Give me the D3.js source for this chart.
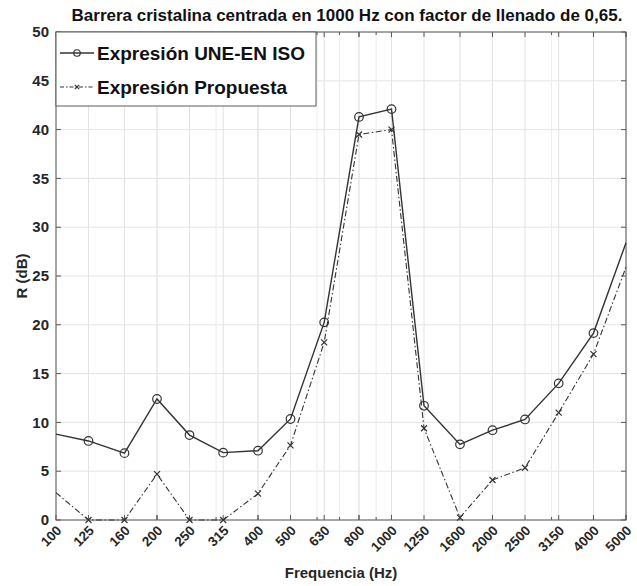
<!DOCTYPE html>
<html>
<head>
<meta charset="utf-8">
<script src="https://cdn.jsdelivr.net/npm/d3@7"></script>
<style>
  html, body { margin: 0; padding: 0; background: #fff; }
  svg { display: block; font-family: "Liberation Sans", Arial, sans-serif; }
</style>
</head>
<body>
<svg id="chart" width="637" height="586"></svg>
<script>
// Third-octave band centre frequencies (Hz)
const frequencies = [100, 125, 160, 200, 250, 315, 400, 500, 630, 800, 1000, 1250, 1600, 2000, 2500, 3150, 4000, 5000];
// Sound reduction index R (dB), standard expression
const rStandard = [8.8, 8.1, 6.85, 12.4, 8.7, 6.9, 7.1, 10.35, 20.25, 41.3, 42.1, 11.7, 7.75, 9.2, 10.3, 14.0, 19.15, 28.4];
// Sound reduction index R (dB), proposed expression
const rProposed = [2.8, 0, 0, 4.7, 0, 0, 2.7, 7.65, 18.2, 39.5, 40.0, 9.4, 0.25, 4.1, 5.35, 11.0, 17.0, 25.9];
const yTicks = [0, 5, 10, 15, 20, 25, 30, 35, 40, 45, 50];
const minorFreqs = [200, 300, 400, 500, 600, 700, 800, 900, 1000, 2000, 3000, 4000, 5000];
const seriesNames = ["Expresión UNE-EN ISO", "Expresión Propuesta"];

const svg = d3.select("#chart");
const plotL = 56, plotR = 626, plotT = 32, plotB = 520;
const axisColor = "#5a5a5a", textColor = "#262626", lineColor = "#333";

const x = d3.scaleLog().domain([100, 5000]).range([plotL, plotR]);
const y = d3.scaleLinear().domain([0, 50]).range([plotB, plotT]);
const [xMin, xMax] = x.domain();

// grid
const grid = svg.append("g");
grid.selectAll(".gy").data(yTicks).join("line")
  .attr("x1", plotL).attr("x2", plotR)
  .attr("y1", d => y(d)).attr("y2", d => y(d))
  .attr("stroke", "#e4e4e4").attr("stroke-width", 1);
grid.selectAll(".gm").data(minorFreqs).join("line")
  .attr("x1", d => x(d)).attr("x2", d => x(d))
  .attr("y1", plotT).attr("y2", plotB)
  .attr("stroke", "#ececec").attr("stroke-width", 1);
grid.selectAll(".gx").data(frequencies).join("line")
  .attr("x1", d => x(d)).attr("x2", d => x(d))
  .attr("y1", plotT).attr("y2", plotB)
  .attr("stroke", "#e2e2e2").attr("stroke-width", 1);

// axes box with inward ticks on all sides
const box = svg.append("g");
box.append("rect").attr("x", plotL).attr("y", plotT)
  .attr("width", plotR - plotL).attr("height", plotB - plotT)
  .attr("fill", "none").attr("stroke", axisColor).attr("stroke-width", 1);
const tickLen = 5;
frequencies.concat(minorFreqs).forEach(f => {
  const len = frequencies.includes(f) ? tickLen : 3;
  box.append("line").attr("x1", x(f)).attr("x2", x(f)).attr("y1", plotB).attr("y2", plotB - len)
    .attr("stroke", axisColor);
  box.append("line").attr("x1", x(f)).attr("x2", x(f)).attr("y1", plotT).attr("y2", plotT + len)
    .attr("stroke", axisColor);
});
yTicks.forEach(v => {
  box.append("line").attr("x1", plotL).attr("x2", plotL + tickLen).attr("y1", y(v)).attr("y2", y(v))
    .attr("stroke", axisColor);
  box.append("line").attr("x1", plotR).attr("x2", plotR - tickLen).attr("y1", y(v)).attr("y2", y(v))
    .attr("stroke", axisColor);
});

// tick labels
svg.append("g").selectAll("text").data(yTicks).join("text")
  .attr("x", plotL - 7).attr("y", d => y(d)).attr("dy", "0.35em")
  .attr("text-anchor", "end").attr("font-size", 15).attr("font-weight", "bold")
  .attr("fill", textColor).text(d => d);
svg.append("g").selectAll("text").data(frequencies).join("text")
  .attr("transform", d => `translate(${x(d) + 3},${plotB + 8}) rotate(-45)`)
  .attr("text-anchor", "end").attr("dy", "0.35em")
  .attr("font-size", 13.5).attr("font-weight", "bold")
  .attr("fill", textColor).text(d => d);

// axis titles and chart title
svg.append("text").attr("x", (plotL + plotR) / 2).attr("y", 578)
  .attr("text-anchor", "middle").attr("font-size", 15).attr("font-weight", "bold")
  .attr("fill", textColor).text("Frequencia (Hz)");
svg.append("text").attr("transform", `translate(22,${(plotT + plotB) / 2}) rotate(-90)`)
  .attr("text-anchor", "middle").attr("dy", "0.35em").attr("font-size", 15).attr("font-weight", "bold")
  .attr("fill", textColor).text("R (dB)");
svg.append("text").attr("x", (plotL + plotR) / 2 + 6).attr("y", 21)
  .attr("text-anchor", "middle").attr("font-size", 17).attr("font-weight", "bold")
  .attr("fill", "#111").text("Barrera cristalina centrada en 1000 Hz con factor de llenado de 0,65.");

// series
const line = d3.line().x(d => x(d[0])).y(d => y(d[1]));
const s1 = frequencies.map((f, i) => [f, rStandard[i]]);
const s2 = frequencies.map((f, i) => [f, rProposed[i]]);
const dashDot = "6,2.5,1.5,2.5";
// markers sitting on the x-limits are clipped away by the axes
const inside = d => d[0] > xMin && d[0] < xMax;

svg.append("path").datum(s2).attr("d", line).attr("fill", "none")
  .attr("stroke", lineColor).attr("stroke-width", 1.1).attr("stroke-dasharray", dashDot);
svg.append("path").datum(s1).attr("d", line).attr("fill", "none")
  .attr("stroke", lineColor).attr("stroke-width", 1.4);

function xMarker(g, cx, cy, r) {
  g.append("path").attr("d", `M${cx - r},${cy - r}L${cx + r},${cy + r}M${cx - r},${cy + r}L${cx + r},${cy - r}`)
    .attr("stroke", lineColor).attr("stroke-width", 1.2).attr("fill", "none");
}
const m2 = svg.append("g");
s2.filter(inside).forEach(d => xMarker(m2, x(d[0]), y(d[1]), 3));
svg.append("g").selectAll("circle").data(s1.filter(inside)).join("circle")
  .attr("cx", d => x(d[0])).attr("cy", d => y(d[1])).attr("r", 4.3)
  .attr("fill", "none").attr("stroke", lineColor).attr("stroke-width", 1.2);

// legend
const lg = svg.append("g");
lg.append("rect").attr("x", plotL).attr("y", plotT).attr("width", 260).attr("height", 74)
  .attr("fill", "#fff").attr("stroke", axisColor).attr("stroke-width", 1);
const rows = [plotT + 21, plotT + 55];
lg.append("line").attr("x1", plotL + 4).attr("x2", plotL + 38).attr("y1", rows[0]).attr("y2", rows[0])
  .attr("stroke", lineColor).attr("stroke-width", 1.4);
lg.append("circle").attr("cx", plotL + 21).attr("cy", rows[0]).attr("r", 3.3)
  .attr("fill", "none").attr("stroke", lineColor).attr("stroke-width", 1.1);
lg.append("line").attr("x1", plotL + 4).attr("x2", plotL + 38).attr("y1", rows[1]).attr("y2", rows[1])
  .attr("stroke", lineColor).attr("stroke-width", 1.1).attr("stroke-dasharray", "4,2,1.5,2");
xMarker(lg, plotL + 21, rows[1], 2.2);
lg.selectAll("text.lbl").data(seriesNames).join("text")
  .attr("x", plotL + 41).attr("y", (d, i) => rows[i]).attr("dy", "0.35em")
  .attr("font-size", 19).attr("font-weight", "bold").attr("fill", "#111")
  .text(d => d);
</script>
</body>
</html>
